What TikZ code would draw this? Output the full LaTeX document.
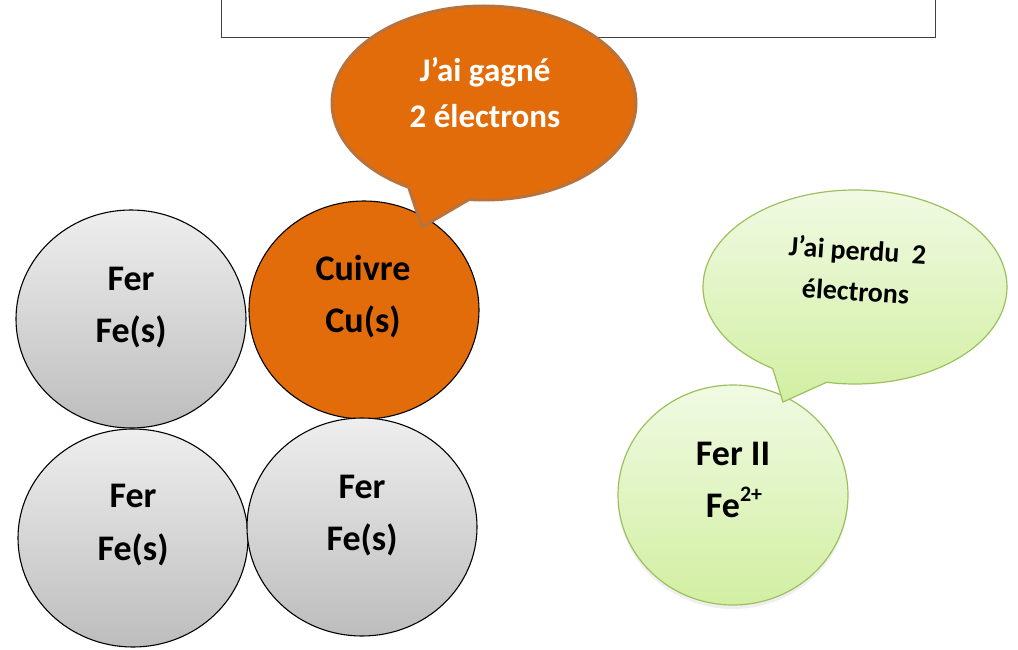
\documentclass[tikz,border=0pt]{standalone}
\usepackage{fontspec}
\setmainfont{Carlito}
\usetikzlibrary{shapes.geometric,shapes.callouts,shadows}
\definecolor{orng}{HTML}{E36C0A}
\definecolor{orngline}{HTML}{B8733D}
\definecolor{grtop}{HTML}{EEEEEE}
\definecolor{grbot}{HTML}{BDBDBD}
\definecolor{gntop}{HTML}{F0FAE3}
\definecolor{gnbot}{HTML}{D2EFA2}
\definecolor{gnline}{HTML}{9DC05E}
\begin{document}
\begin{tikzpicture}[x=1pt,y=-1pt,
  atom/.style={ellipse, draw=black, line width=1.1pt, minimum width=230pt, minimum height=218pt, inner sep=0pt},
  ironatom/.style={atom, top color=grtop, bottom color=grbot},
  lbl/.style={font=\bfseries\fontsize{36}{40}\selectfont, anchor=base, inner sep=0pt},
  bubtxt/.style={font=\bfseries\fontsize{33}{36}\selectfont, text=white, anchor=base, inner sep=0pt},
  gbubtxt/.style={font=\bfseries\fontsize{28}{32}\selectfont, anchor=base, inner sep=0pt, rotate=-4}]
\useasboundingbox (0,0) rectangle (1018,650);
\fill[white] (0,0) rectangle (1018,650);
% top frame
\node[draw=black!75, line width=0.8pt, minimum width=714pt, minimum height=60pt, anchor=south west, inner sep=0pt] (frame) at (221,38) {};
% atoms
\node[ironatom] (fe1) at (131,319) {};
\node[atom, fill=orng] (cu) at (364,310) {};
\node[ironatom] (fe2) at (133,538) {};
\node[ironatom] (fe3) at (362,527) {};
\node[lbl] (fe1a) at (131,290) {Fer};
\node[lbl] (fe1b) at (131,342) {Fe(s)};
\node[lbl] (cua) at (363,280) {Cuivre};
\node[lbl] (cub) at (363,332) {Cu(s)};
\node[lbl] (fe2a) at (133,507) {Fer};
\node[lbl] (fe2b) at (133,560) {Fe(s)};
\node[lbl] (fe3a) at (362,498) {Fer};
\node[lbl] (fe3b) at (362,550) {Fe(s)};
% iron II ion
\node[ellipse, draw=gnline, line width=1.2pt, top color=gntop, bottom color=gnbot,
  minimum width=230pt, minimum height=220pt, inner sep=0pt,
  drop shadow={opacity=0.12, shadow xshift=0pt, shadow yshift=-4pt}] (fe2p) at (733,495) {};
\node[lbl] (fe2pa) at (733,465) {Fer II};
\node[lbl] (fe2pb) at (734,517) {Fe\raisebox{16pt}{\fontsize{22}{24}\selectfont 2+}};
% orange speech bubble
\node[ellipse callout, draw=orngline, line width=3pt, fill=orng,
  minimum width=304pt, minimum height=194pt, inner sep=0pt,
  callout absolute pointer={(422,227)}, callout pointer arc=24] (bub1) at (484,103) {};
\node[bubtxt] (bub1a) at (485,82) {J’ai gagné};
\node[bubtxt] (bub1b) at (485,128) {2 électrons};
% green speech bubble
\node[ellipse callout, draw=gnline, line width=1.2pt, top color=gntop, bottom color=gnbot,
  minimum width=304pt, minimum height=194pt, inner sep=0pt,
  callout absolute pointer={(783,402)}, callout pointer arc=22] (bub2) at (855,287) {};
\node[gbubtxt] (bub2a) at (857,260) {J’ai perdu\ \ 2};
\node[gbubtxt] (bub2b) at (855,301) {électrons};
\end{tikzpicture}
\end{document}
